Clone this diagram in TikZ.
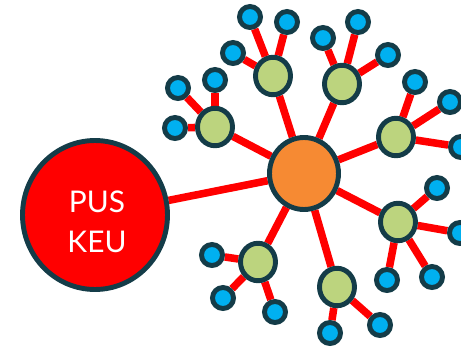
\documentclass[tikz,border=0pt]{standalone}
\usepackage{fontspec}
\setsansfont{Lato}
\usetikzlibrary{backgrounds, shapes.geometric}
\definecolor{rim}{HTML}{143C48}
\definecolor{hubor}{HTML}{F68A33}
\definecolor{midgreen}{HTML}{BCD47E}
\definecolor{leafblue}{HTML}{00B0F0}
\tikzset{
  rimmed/.style={draw=rim, line width=2.8pt, inner sep=0pt},
  root/.style={rimmed, ellipse, fill=red, minimum width=2.9cm, minimum height=2.98cm},
  hub/.style={rimmed, ellipse, fill=hubor, minimum width=1.38cm, minimum height=1.44cm},
  mid/.style={rimmed, ellipse, fill=midgreen, minimum width=0.7cm, minimum height=0.75cm},
  leaf/.style={rimmed, circle, fill=leafblue, minimum size=0.42cm},
  link/.style={red, line width=4.3pt}
}

\begin{document}
\begin{tikzpicture}[x=0.02cm, y=-0.02cm]
\useasboundingbox (0,0) rectangle (461,349);
\node[root] (keu) at (95,215) {};
\node[text=white, font=\sffamily\fontsize{17}{23}\selectfont, align=center] (keutext) at (97,222) {PUS\\KEU};
\node[hub] (hub) at (304,173.5) {};
% green ones
\node[mid] (g1) at (215,127) {};
\node[mid] (g2) at (273,76) {};
\node[mid] (g3) at (342,84) {};
\node[mid] (g4) at (396,137) {};
\node[mid] (g5) at (258,262) {};
\node[mid] (g6) at (337,287) {};
\node[mid] (g7) at (398,222) {};
% blue ones
\foreach \n/\x/\y in {a1/175/128, a2/178/88, a3/215/80,
  b1/233/53, b2/250/17, b3/287/22,
  c1/323/38, c2/358/22, c3/388/55,
  d1/415/82, d2/450/102, d3/461/147,
  e1/212/255, e2/223/298, e3/275/312,
  f1/330/333, f2/380/325,
  h1/437/188, h2/460/233, h3/387/280, h4/432/277}
  \node[leaf] (\n) at (\x,\y) {};
\begin{scope}[on background layer]
\draw[link] (keu) -- (hub);
\foreach \g in {g1,g2,g3,g4,g5,g6,g7}
  \draw[link] (hub) -- (\g);
\foreach \g/\n in {g1/a1, g1/a2, g1/a3, g2/b1, g2/b2, g2/b3,
  g3/c1, g3/c2, g3/c3, g4/d1, g4/d2, g4/d3,
  g5/e1, g5/e2, g5/e3, g6/f1, g6/f2,
  g7/h1, g7/h2, g7/h3, g7/h4}
  \draw[link] (\g) -- (\n);
\end{scope}
\end{tikzpicture}
\end{document}
